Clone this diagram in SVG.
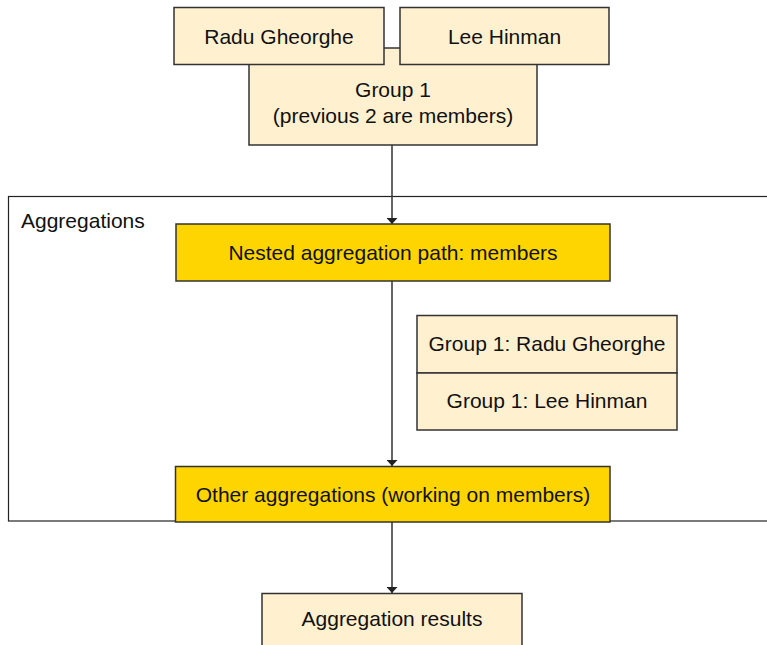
<svg xmlns="http://www.w3.org/2000/svg" width="767" height="645" viewBox="0 0 767 645">
<defs>
<style>
.light{fill:#FFF0CF;stroke:#333;stroke-width:1.5}
.gold{fill:#FFD500;stroke:#333;stroke-width:1.5}
.t{font-family:"Liberation Sans",Arial,sans-serif;font-size:21px;fill:#111;text-anchor:middle}
.lbl{font-family:"Liberation Sans",Arial,sans-serif;font-size:21px;fill:#111}
.con{stroke:#333;stroke-width:1.5;fill:none}
</style>
<marker id="arr" viewBox="0 0 10 10" refX="10" refY="5" markerWidth="6" markerHeight="11" markerUnits="userSpaceOnUse" orient="auto-start-reverse" preserveAspectRatio="none">
<path d="M0,0 L10,5 L0,10 z" fill="#222"/>
</marker>
</defs>
<rect id="container" x="8.5" y="196.5" width="770" height="324.5" fill="#fff" stroke="#222" stroke-width="1.2"/>
<text class="lbl" x="21" y="228">Aggregations</text>
<g id="connectors">
<line class="con" x1="392" y1="145" x2="392" y2="224" marker-end="url(#arr)"/>
<line class="con" x1="392" y1="281" x2="392" y2="466" marker-end="url(#arr)"/>
<line class="con" x1="392" y1="522" x2="392" y2="593" marker-end="url(#arr)"/>
</g>
<g id="group1">
<rect class="light" x="249" y="48" width="288" height="97"/>
<text class="t" x="393" y="97">Group 1</text>
<text class="t" x="393" y="123">(previous 2 are members)</text>
</g>
<g id="radu">
<rect class="light" x="174" y="7.5" width="210" height="57"/>
<text class="t" x="279" y="44">Radu Gheorghe</text>
</g>
<g id="lee">
<rect class="light" x="400" y="7.5" width="209" height="57"/>
<text class="t" x="504.5" y="44">Lee Hinman</text>
</g>
<g id="nested">
<rect class="gold" x="176" y="224" width="434" height="57"/>
<text class="t" x="393" y="260">Nested aggregation path: members</text>
</g>
<g id="members">
<rect class="light" x="417" y="315.5" width="260" height="57.5"/>
<text class="t" x="547" y="351">Group 1: Radu Gheorghe</text>
<rect class="light" x="417" y="373" width="260" height="57"/>
<text class="t" x="547" y="408">Group 1: Lee Hinman</text>
</g>
<g id="other">
<rect class="gold" x="175.5" y="466.5" width="434.5" height="55.5"/>
<text class="t" x="393" y="502">Other aggregations (working on members)</text>
</g>
<g id="results">
<rect class="light" x="262" y="593.5" width="260" height="60"/>
<text class="t" x="392" y="626">Aggregation results</text>
</g>
</svg>
